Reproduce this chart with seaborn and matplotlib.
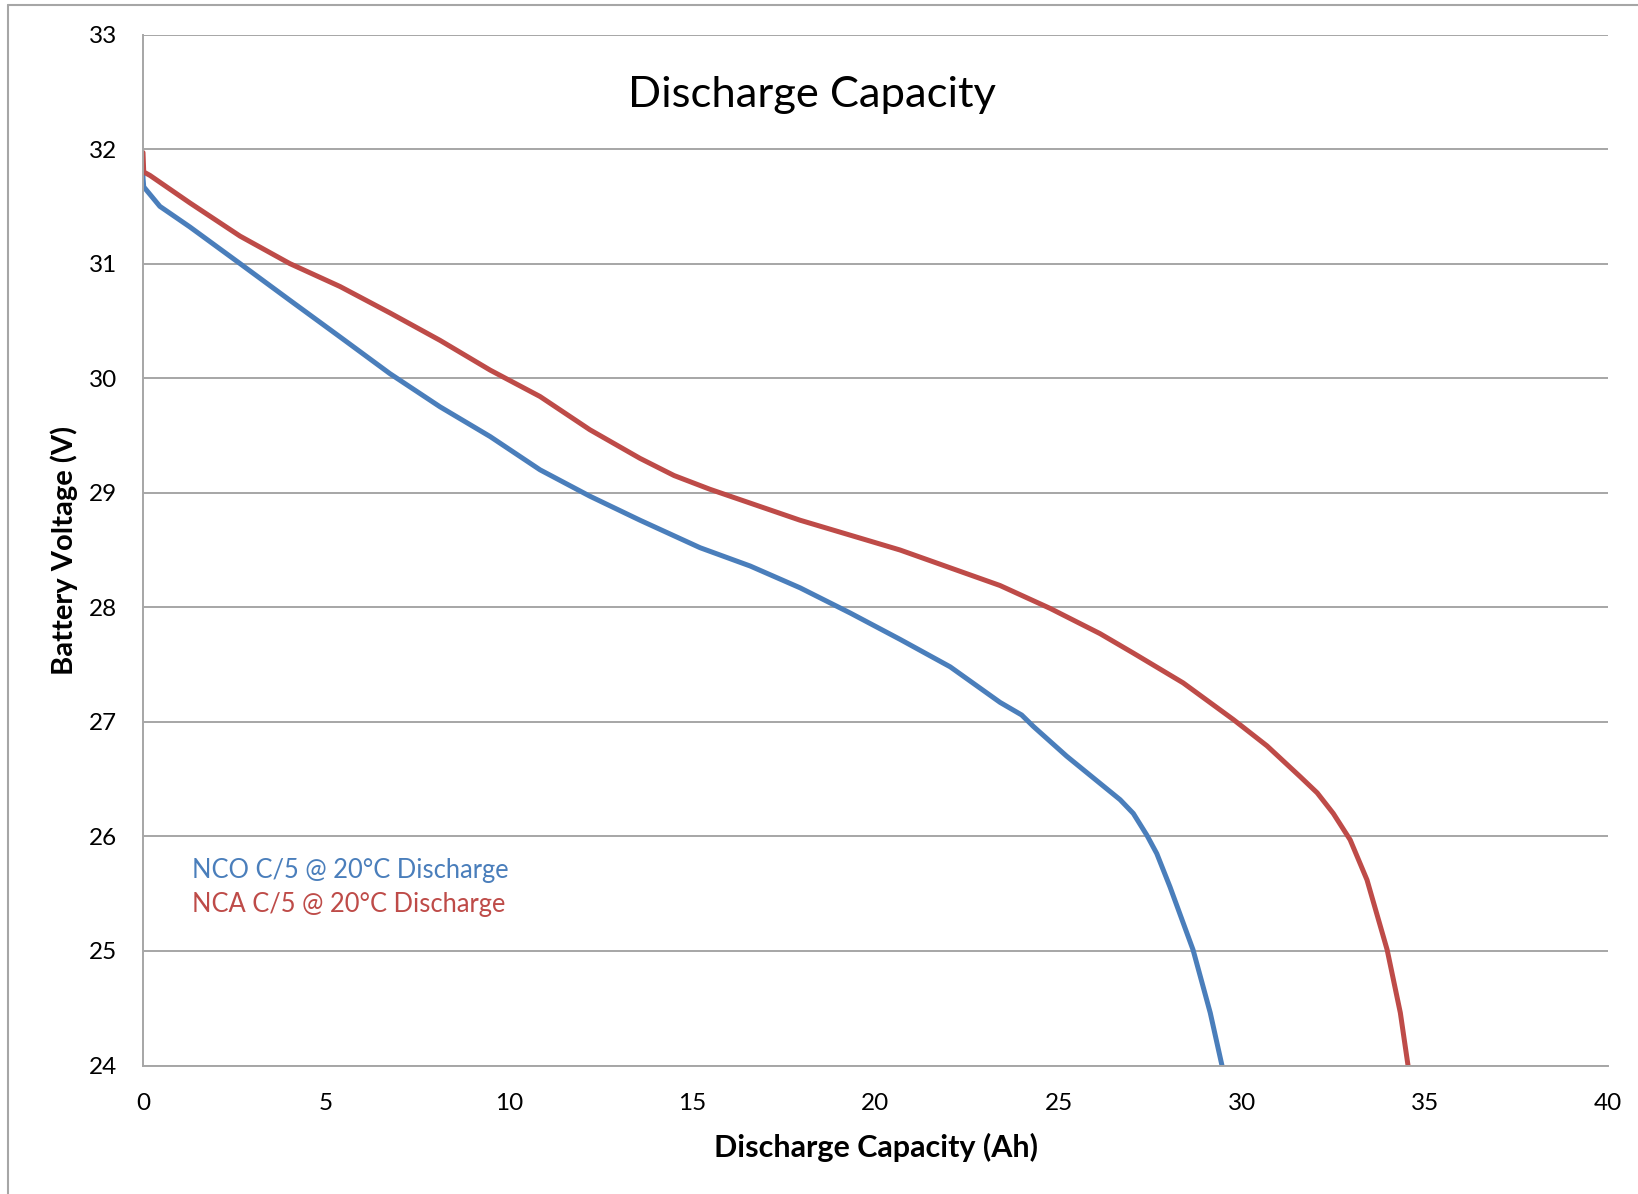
import matplotlib
matplotlib.use("Agg")
import matplotlib.pyplot as plt
from matplotlib.lines import Line2D
import seaborn as sns
import pandas as pd

# ---- data ----
nco_capacity = [0, 0, 0.02, 0.46, 1.28, 2.65, 4.01, 5.38, 6.74, 8.11, 9.48, 10.84,
                12.2, 13.57, 15.21, 16.58, 17.94, 19.31, 20.67, 22.04, 23.4, 23.99,
                24.31, 25.22, 25.95, 26.68, 27.04, 27.41, 27.68, 28.04, 28.67, 29.14,
                29.46]
nco_voltage = [31.80, 31.75, 31.67, 31.50, 31.32, 31.00, 30.68, 30.36, 30.04, 29.75,
               29.49, 29.20, 28.97, 28.76, 28.52, 28.36, 28.17, 27.95, 27.72, 27.48,
               27.17, 27.06, 26.96, 26.70, 26.51, 26.32, 26.20, 26.01, 25.85, 25.56,
               25.01, 24.46, 24.00]

nca_capacity = [0, 0.02, 0.19, 1.28, 2.65, 4.01, 5.38, 6.74, 8.11, 9.48, 10.84, 12.2,
                13.57, 14.5, 15.48, 17.94, 20.67, 23.4, 24.77, 26.13, 27.04, 28.4,
                29.77, 30.69, 31.6, 32.06, 32.5, 32.96, 33.42, 33.97, 34.33, 34.54]
nca_voltage = [31.97, 31.80, 31.77, 31.53, 31.24, 31.00, 30.80, 30.57, 30.33, 30.07,
               29.84, 29.55, 29.30, 29.15, 29.03, 28.76, 28.50, 28.19, 27.99, 27.77,
               27.60, 27.34, 27.02, 26.79, 26.52, 26.38, 26.20, 25.97, 25.62, 25.01,
               24.46, 24.00]

series_names = ["NCO C/5 @ 20°C Discharge", "NCA C/5 @ 20°C Discharge"]
x_ticks = [0, 5, 10, 15, 20, 25, 30, 35, 40]
y_ticks = [24, 25, 26, 27, 28, 29, 30, 31, 32, 33]
title = "Discharge Capacity"
x_label = "Discharge Capacity (Ah)"
y_label = "Battery Voltage (V)"

df = pd.concat([
    pd.DataFrame({"cap": nco_capacity, "volt": nco_voltage, "series": series_names[0]}),
    pd.DataFrame({"cap": nca_capacity, "volt": nca_voltage, "series": series_names[1]}),
], ignore_index=True)

BLUE = "#4A7EBB"
RED = "#BE4B48"
GRID = "#A6A6A6"

sns.set_theme(style="white")
plt.rcParams["font.family"] = ["Lato", "DejaVu Sans"]

fig = plt.figure(figsize=(16.38, 11.94), dpi=100)
ax = fig.add_axes([143 / 1638, 1 - 1065.5 / 1194, (1608 - 143) / 1638, (1065.5 - 34.5) / 1194])

sns.lineplot(data=df, x="cap", y="volt", hue="series", palette=[BLUE, RED],
             sort=False, estimator=None, units="series", linewidth=3.6, ax=ax,
             legend=False)

ax.set_xlim(0, 40)
ax.set_ylim(24, 33)
ax.set_xticks(x_ticks)
ax.set_yticks(y_ticks)
ax.set_xticklabels([str(t) for t in x_ticks])
ax.set_yticklabels([str(t) for t in y_ticks])

ax.grid(axis="y", color=GRID, linewidth=1.4)
ax.grid(axis="x", visible=False)
ax.set_axisbelow(True)
for s in ["top", "right"]:
    ax.spines[s].set_visible(False)
for s in ["left", "bottom"]:
    ax.spines[s].set_color(GRID)
    ax.spines[s].set_linewidth(1.4)

ax.tick_params(axis="both", which="major", direction="out", length=7.5, width=1.4,
               color=GRID, labelsize=17.5, labelcolor="black")
ax.tick_params(axis="y", pad=11)
ax.tick_params(axis="x", pad=12)

ax.set_xlabel(x_label, fontsize=22, fontweight="bold", color="black", labelpad=14)
ax.set_ylabel(y_label, fontsize=21, fontweight="bold", color="black", labelpad=8)

ax.text(0.4567, 0.941, title, transform=ax.transAxes, ha="center", va="center",
        fontsize=31.3, color="black")

ax.text(0.0334, 0.1890, series_names[0], transform=ax.transAxes, ha="left",
        va="center", fontsize=18.4, color=BLUE)
ax.text(0.0334, 0.1560, series_names[1], transform=ax.transAxes, ha="left",
        va="center", fontsize=18.4, color=RED)

# outer chart border (left and top edges visible in the reference)
fig.add_artist(Line2D([8 / 1638, 8 / 1638], [0, 1 - 5 / 1194], transform=fig.transFigure,
                      color=GRID, linewidth=1.5))
fig.add_artist(Line2D([8 / 1638, 1], [1 - 5 / 1194, 1 - 5 / 1194], transform=fig.transFigure,
                      color=GRID, linewidth=1.5))

fig.savefig("out.png", dpi=100, facecolor="white")
